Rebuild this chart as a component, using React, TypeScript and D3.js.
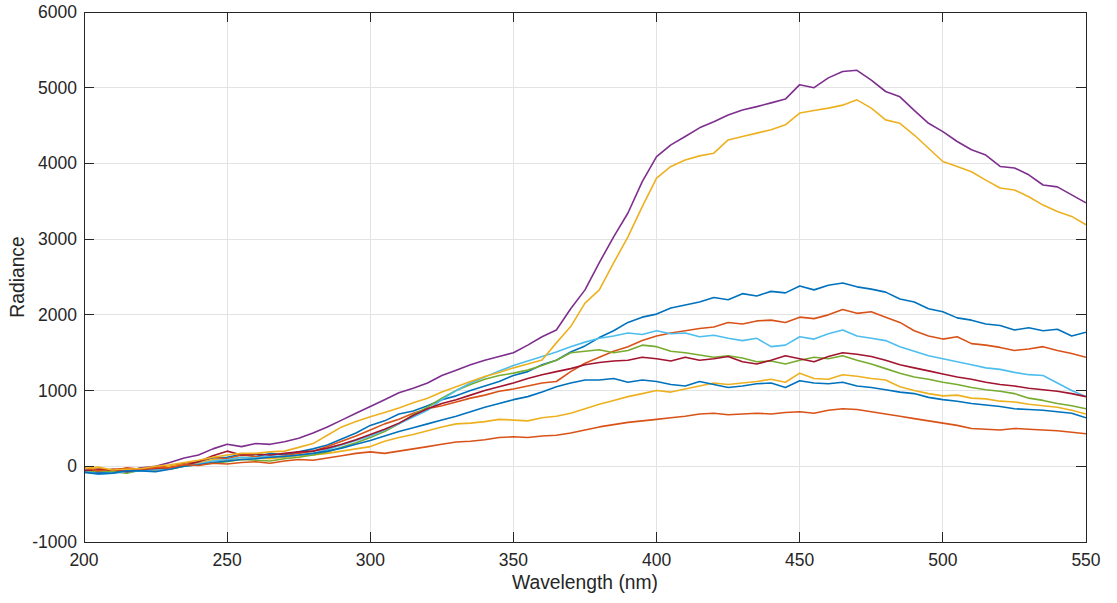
import React from "react";
import * as d3 from "d3";

// Wavelength samples (nm), 5 nm spacing
const wavelengths: number[] = d3.range(200, 551, 5);

// Radiance spectra, one array per measurement
const blueHigh = [-60,-90,-70,-80,-40,-50,-10,20,60,110,120,160,130,170,150,190,230,280,360,440,540,600,690,730,800,880,930,1000,1060,1120,1200,1250,1340,1400,1510,1590,1700,1790,1900,1970,2010,2090,2130,2170,2230,2200,2280,2250,2310,2290,2380,2330,2390,2420,2370,2340,2300,2210,2170,2080,2040,1960,1930,1880,1860,1800,1830,1790,1810,1720,1770];
const orangeHigh = [-30,-50,-60,-20,-40,-10,0,40,60,120,100,150,130,110,140,170,200,260,330,400,480,560,620,700,760,800,850,900,940,990,1020,1060,1100,1120,1250,1360,1440,1520,1580,1660,1720,1760,1790,1820,1840,1900,1880,1920,1930,1900,1970,1950,2000,2070,2020,2040,1970,1900,1790,1720,1680,1710,1620,1600,1570,1530,1550,1580,1530,1490,1440];
const yellowLow = [-40,-20,-60,-40,-30,-50,0,20,40,90,80,120,110,100,120,140,150,170,200,230,260,330,380,420,470,520,560,570,590,620,610,600,640,660,700,760,820,870,920,960,1000,980,1020,1060,1100,1080,1100,1120,1150,1110,1230,1160,1150,1210,1190,1160,1140,1050,1000,960,930,940,900,890,860,850,820,800,780,740,690];
const purple = [-50,-70,-40,-60,-20,0,50,110,150,230,290,260,300,290,325,370,440,520,610,700,790,880,970,1030,1100,1200,1270,1340,1400,1450,1500,1600,1710,1800,2080,2330,2690,3030,3345,3760,4090,4245,4355,4470,4550,4640,4705,4750,4800,4850,5040,5000,5130,5215,5230,5100,4950,4880,4700,4530,4420,4290,4180,4110,3960,3940,3850,3715,3690,3585,3480];
const green = [-80,-60,-70,-90,-50,-30,-40,0,20,40,60,90,80,70,100,120,150,190,250,310,380,460,560,680,780,900,1000,1080,1150,1200,1230,1270,1330,1400,1500,1520,1540,1500,1530,1600,1580,1520,1500,1470,1440,1460,1430,1380,1390,1350,1400,1440,1420,1460,1400,1350,1290,1230,1180,1150,1110,1080,1040,1010,990,960,900,870,830,800,760];
const lightBlue = [-70,-100,-90,-70,-60,-40,-30,10,30,70,90,120,110,140,130,150,170,220,280,340,400,480,560,650,740,880,1000,1100,1180,1260,1330,1390,1450,1510,1580,1640,1690,1720,1760,1740,1790,1750,1760,1710,1730,1690,1660,1690,1580,1600,1710,1680,1750,1800,1720,1690,1660,1580,1520,1460,1420,1380,1340,1300,1280,1240,1210,1200,1100,1000,920];
const darkRed = [-60,-40,-50,-70,-40,-30,-20,10,60,140,200,150,160,150,170,190,200,240,290,350,420,490,570,670,760,830,880,940,1000,1050,1100,1160,1210,1250,1290,1340,1370,1390,1400,1440,1420,1390,1440,1400,1420,1450,1380,1350,1400,1460,1420,1380,1450,1500,1480,1450,1400,1340,1300,1260,1220,1180,1150,1110,1080,1060,1030,1010,990,960,920];
const blueLow = [-80,-100,-90,-60,-60,-70,-40,0,20,50,70,90,100,120,130,150,170,200,240,290,340,400,460,510,560,610,660,720,780,830,880,920,980,1050,1100,1140,1140,1160,1110,1140,1120,1080,1060,1120,1080,1040,1060,1090,1100,1040,1130,1100,1090,1110,1060,1040,1010,980,960,910,880,860,830,810,790,760,750,740,720,700,640];
const orangeLow = [-20,-60,-40,-30,-40,-20,-20,20,10,40,30,50,60,40,70,90,80,110,140,170,190,170,200,230,260,290,320,330,350,380,390,380,400,410,440,480,520,550,580,600,620,640,660,690,700,680,690,700,690,710,720,700,740,760,750,720,690,660,630,600,570,540,500,490,480,500,490,480,470,450,430];
const yellowHigh = [-30,-10,-50,-40,-30,0,20,50,80,120,150,170,170,190,200,250,300,410,520,590,655,710,770,840,900,980,1050,1120,1185,1240,1300,1350,1405,1630,1845,2155,2330,2685,3030,3430,3805,3960,4045,4100,4135,4310,4355,4400,4445,4510,4665,4700,4730,4770,4840,4730,4575,4530,4375,4200,4025,3960,3890,3780,3675,3650,3560,3450,3365,3300,3190];

const seriesList: number[][] = [blueHigh, orangeHigh, yellowLow, purple, green, lightBlue, darkRed, blueLow, orangeLow, yellowHigh];
const seriesColors: string[] = ["#0072BD", "#D95319", "#EDB120", "#7E2F8E", "#77AC30", "#4DBEEE", "#A2142F", "#0072BD", "#D95319", "#EDB120"];

const xTicks: number[] = [200, 250, 300, 350, 400, 450, 500, 550];
const yTicks: number[] = [-1000, 0, 1000, 2000, 3000, 4000, 5000, 6000];
const xLabel = "Wavelength (nm)";
const yLabel = "Radiance";

const W = 1117;
const H = 603;
const left = 84;
const right = 1086;
const top = 12;
const bottom = 542;
const axisColor = "#262626";
const gridColor = "#e3e3e3";
const font = "'Liberation Sans', Arial, Helvetica, sans-serif";
const tickLen = 10;

export default function App() {
  const x = d3.scaleLinear().domain([200, 550]).range([left, right]);
  const y = d3.scaleLinear().domain([-1000, 6000]).range([bottom, top]);
  const line = d3
    .line<number>()
    .x((_, i) => x(wavelengths[i]))
    .y((v) => y(v));

  return (
    <svg
      width={W}
      height={H}
      style={{ position: "absolute", left: 0, top: 0, background: "#fff" }}
    >
      <defs>
        <clipPath id="plotClip">
          <rect x={left} y={top} width={right - left} height={bottom - top} />
        </clipPath>
      </defs>
      <rect x={0} y={0} width={W} height={H} fill="#fff" />
      {/* grid */}
      <g shapeRendering="crispEdges">
        {xTicks.slice(1, -1).map((t) => (
          <line key={"gx" + t} x1={x(t)} x2={x(t)} y1={top} y2={bottom} stroke={gridColor} strokeWidth={1} />
        ))}
        {yTicks.slice(1, -1).map((t) => (
          <line key={"gy" + t} x1={left} x2={right} y1={y(t)} y2={y(t)} stroke={gridColor} strokeWidth={1} />
        ))}
      </g>
      {/* spectra */}
      <g clipPath="url(#plotClip)" fill="none" strokeWidth={1.6} strokeLinejoin="round">
        {seriesList.map((s, i) => (
          <path key={i} d={line(s) || ""} stroke={seriesColors[i]} />
        ))}
      </g>
      {/* box and ticks */}
      <g shapeRendering="crispEdges" stroke={axisColor} strokeWidth={1}>
        <rect x={left} y={top} width={right - left} height={bottom - top} fill="none" />
        {xTicks.map((t) => (
          <g key={"tx" + t}>
            <line x1={x(t)} x2={x(t)} y1={bottom} y2={bottom - tickLen} />
            <line x1={x(t)} x2={x(t)} y1={top} y2={top + tickLen} />
          </g>
        ))}
        {yTicks.map((t) => (
          <g key={"ty" + t}>
            <line x1={left} x2={left + tickLen} y1={y(t)} y2={y(t)} />
            <line x1={right} x2={right - tickLen} y1={y(t)} y2={y(t)} />
          </g>
        ))}
      </g>
      {/* tick labels */}
      <g fill={axisColor} fontFamily={font} fontSize={17.5}>
        {xTicks.map((t) => (
          <text key={"lx" + t} x={x(t)} y={566} textAnchor="middle">
            {t}
          </text>
        ))}
        {yTicks.map((t) => (
          <text key={"ly" + t} x={left - 7} y={y(t) + 6} textAnchor="end">
            {t}
          </text>
        ))}
      </g>
      <text x={(left + right) / 2} y={589} textAnchor="middle" fill={axisColor} fontFamily={font} fontSize={19.3}>
        {xLabel}
      </text>
      <text
        transform={`translate(24, ${(top + bottom) / 2}) rotate(-90)`}
        textAnchor="middle"
        fill={axisColor}
        fontFamily={font}
        fontSize={19.3}
      >
        {yLabel}
      </text>
    </svg>
  );
}
